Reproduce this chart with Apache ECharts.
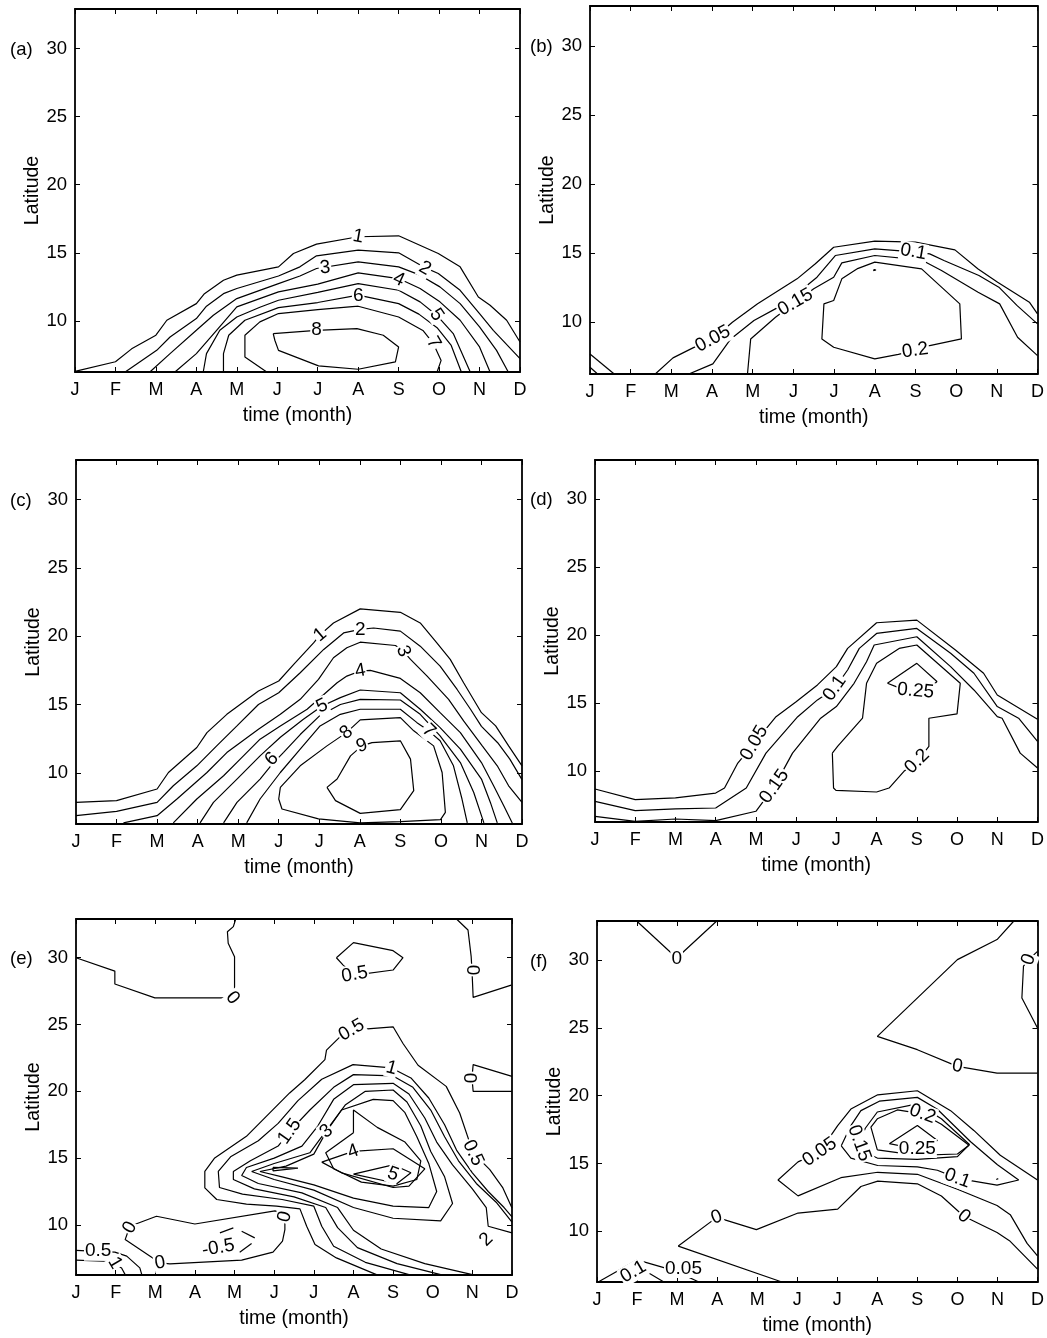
<!DOCTYPE html>
<html><head><meta charset="utf-8">
<script src="https://cdn.jsdelivr.net/npm/echarts@6/dist/echarts.min.js"></script>
<style>html,body{margin:0;padding:0;background:#fff}#c{width:1047px;height:1338px}</style>
</head><body><div id="c"></div>
<script>
// ---------- axis values ----------
const months = ['J','F','M','A','M','J','J','A','S','O','N','D'];
const monthTicks = [1,2,3,4,5,6,7,8,9,10,11,12];
const latTicks = [10,15,20,25,30];
const panelTags = ['(a)','(b)','(c)','(d)','(e)','(f)'];
const latMin = 6.25, latMax = 32.9;

// ---------- panel (a) contours [month, latitude] ----------
const a1 = [[1,6.3],[2.0,7.0],[2.4,7.95],[3.0,8.95],[3.27,10.05],[4.0,11.27],[4.2,12.0],[4.67,12.99],[5.0,13.36],[6.03,13.97],[6.4,14.95],[6.97,15.64],[8.0,16.18],[9.0,16.25],[9.98,14.95],[10.52,13.97],[10.97,11.76],[11.26,11.15],[11.67,10.05],[12,8.45]];
const a2 = [[2.24,6.25],[3.02,7.84],[3.35,8.82],[4.0,10.17],[4.25,11.08],[4.67,12.0],[5.0,12.38],[6.03,13.3],[6.56,13.97],[6.97,14.78],[8.0,15.2],[9.0,15.0],[9.61,13.97],[9.98,13.48],[10.52,12.25],[11.0,10.54],[11.34,9.31],[12,7.23]];
const a3 = [[2.85,6.25],[3.35,7.6],[4.0,9.31],[4.42,10.42],[5.0,11.64],[6.03,12.74],[6.56,13.3],[6.97,13.85],[8.0,14.34],[9.0,13.97],[9.53,13.36],[10.02,12.5],[10.52,11.27],[11.0,9.56],[11.42,7.84],[11.71,6.25]];
const a4 = [[3.47,6.25],[4.0,7.6],[4.5,9.31],[5.0,11.03],[6.03,12.13],[7.0,12.7],[8.0,13.53],[9.0,13.11],[9.53,12.38],[10.02,11.4],[10.52,10.05],[11.0,8.09],[11.26,6.25]];
const a5 = [[4.17,6.25],[4.25,7.6],[4.58,9.31],[5.0,10.29],[5.57,11.0],[6.03,11.52],[7.0,12.1],[8.0,12.74],[9.0,12.25],[9.53,11.4],[9.94,10.42],[10.35,9.07],[10.77,6.25]];
const a6 = [[4.67,6.25],[4.67,7.6],[4.8,8.95],[5.2,10.05],[6.03,10.98],[7.0,11.35],[8.0,11.89],[9.0,11.27],[9.5,10.5],[9.95,9.5],[10.3,8.2],[10.55,6.25]];
const a7 = [[5.74,6.25],[5.2,7.35],[5.2,8.95],[5.57,9.93],[6.03,10.54],[7.0,10.83],[8.0,11.08],[9.0,10.29],[9.6,9.3],[9.86,8.33],[10.05,7.1],[9.95,6.25]];
const a8 = [[5.9,9.07],[6.97,9.31],[7.97,9.44],[8.62,8.95],[9.0,8.09],[8.92,6.99],[8.0,6.45],[7.02,6.7],[6.03,7.84],[5.94,8.58],[5.9,9.07]];
const aLabels = [[8.0,16.2,'1'],[9.65,13.85,'2'],[7.18,13.9,'3'],[9.0,13.05,'4'],[9.94,10.45,'5'],[8.0,11.85,'6'],[9.86,8.4,'7'],[6.97,9.33,'8']];
const aRot = [-10,-30,5,-25,-55,0,-60,0];

// ---------- panel (b) ----------
const b0 = [[1,7.7],[1.61,6.21]];
const b00 = [[1,6.74],[1.2,6.21]];
const b1 = [[2.59,6.21],[3.04,7.42],[3.53,8.14],[4.02,8.79],[4.5,10.0],[5.12,11.33],[6.09,13.14],[6.54,14.23],[6.99,15.43],[8.0,15.87],[9.0,15.8],[9.97,15.24],[10.54,13.86],[11.02,12.9],[11.8,11.45],[12,10.6]];
const b2 = [[3.4,6.21],[4.02,6.98],[4.46,8.79],[5.03,10.12],[5.6,11.04],[6.13,12.17],[6.58,13.26],[7.03,14.83],[8.0,15.31],[8.95,15.1],[9.35,14.95],[9.7,14.47],[10.56,13.38],[11.05,12.54],[11.5,11.2],[12,9.88]];
const b3 = [[4.87,6.21],[4.95,8.79],[5.56,10.36],[6.05,11.45],[6.5,12.42],[6.99,13.26],[7.19,14.3],[8.0,14.83],[9.15,14.5],[9.64,13.74],[10.54,12.17],[11.07,11.33],[11.51,8.91],[12,7.58]];
const b4 = [[7.56,13.86],[8.0,14.35],[9.15,13.86],[10.09,11.33],[10.13,8.79],[9.35,8.31],[8.99,7.95],[8.58,7.67],[8.0,7.34],[6.99,8.19],[6.7,8.79],[6.75,11.33],[6.99,11.57],[7.19,13.14],[7.56,13.86]];
const b5 = [[7.98,13.82],[8.03,13.78],[8.02,13.7],[7.97,13.74],[7.98,13.82]];
const bLabels = [[4.02,8.79,'0.05'],[6.05,11.45,'0.15'],[8.95,15.1,'0.1'],[8.99,7.95,'0.2']];
const bRot = [28,30,-10,8];

// ---------- panel (c) ----------
const c1 = [[1,7.83],[2.0,7.96],[3.0,8.81],[3.28,10.02],[3.98,11.85],[4.23,12.94],[4.72,14.28],[5.5,15.99],[6.0,16.72],[6.37,17.93],[6.86,19.51],[7.02,20.1],[7.35,20.97],[8.01,22.0],[9.0,21.75],[9.49,20.97],[9.9,19.51],[10.23,18.3],[10.56,16.59],[11.0,14.4],[11.35,13.43],[11.67,11.97],[12,10.51]];
const c2 = [[1,6.86],[2.0,7.18],[3.0,7.83],[3.4,9.05],[3.98,10.51],[4.47,11.97],[4.97,13.43],[5.5,15.0],[6.0,15.86],[6.53,17.32],[7.11,19.03],[7.6,20.24],[8.01,20.5],[8.34,20.6],[9.0,20.37],[9.49,19.27],[9.98,17.81],[10.4,16.1],[10.73,14.65],[11.0,13.4],[11.4,12.2],[11.7,11.0],[12,9.5]];
const c3 = [[2.17,6.33],[3.0,6.86],[3.49,8.08],[4.23,10.02],[4.72,11.48],[5.5,13.19],[6.04,14.28],[6.53,15.38],[6.98,16.84],[7.35,18.42],[7.68,19.15],[8.01,19.56],[8.88,19.32],[9.07,18.9],[9.25,18.3],[9.66,17.08],[10.19,15.38],[10.56,13.8],[11.02,11.97],[11.39,10.51],[11.67,9.05],[12,7.83]];
const c4 = [[3.4,6.33],[3.98,8.08],[4.64,9.78],[5.05,11.0],[5.54,12.46],[6.04,13.43],[6.7,14.65],[7.44,16.59],[7.68,17.08],[8.01,17.45],[8.26,17.5],[9.0,16.91],[9.49,15.86],[9.98,14.4],[10.48,12.94],[11.0,10.75],[11.3,9.05],[11.55,7.59],[11.76,6.33]];
const c5 = [[4.06,6.33],[4.39,7.83],[4.97,9.54],[5.54,11.24],[6.04,12.6],[6.6,13.9],[7.07,14.89],[7.52,15.5],[8.01,16.06],[9.0,15.86],[9.49,14.65],[9.98,13.31],[10.48,11.73],[11.0,9.54],[11.22,7.83],[11.39,6.33]];
const c6 = [[4.64,6.33],[4.97,7.83],[5.54,9.54],[5.83,10.6],[6.12,11.5],[6.53,12.8],[7.02,14.2],[7.52,15.0],[8.01,15.38],[9.0,15.33],[9.49,14.28],[9.98,12.7],[10.48,10.75],[10.81,8.56],[11.06,6.33]];
const c7 = [[5.21,6.33],[5.54,8.08],[6.04,10.02],[6.53,11.73],[7.02,13.43],[7.52,14.28],[8.01,14.65],[9.0,14.65],[9.41,13.67],[9.7,13.07],[9.98,12.34],[10.31,10.51],[10.52,8.08],[10.65,6.33]];
const c8 = [[6.04,8.93],[6.53,10.51],[7.19,11.97],[7.67,12.94],[8.01,13.87],[9.0,14.04],[9.33,13.07],[9.82,11.97],[10.03,10.02],[10.11,7.1],[9.99,6.57],[9.0,6.42],[8.01,6.33],[6.98,6.62],[6.08,7.35],[6.0,8.08],[6.04,8.93]];
const c9 = [[7.19,8.93],[7.44,9.54],[7.77,11.24],[8.05,11.97],[8.3,12.21],[9.0,12.34],[9.25,11.0],[9.33,8.69],[9.0,7.3],[8.01,7.03],[7.4,7.96],[7.19,8.93]];
const cLabels = [[7.02,20.1,'1'],[8.01,20.5,'2'],[9.07,18.9,'3'],[8.01,17.45,'4'],[7.07,14.89,'5'],[5.83,11.0,'6'],[9.7,13.07,'7'],[7.67,12.94,'8'],[8.05,11.97,'9']];
const cRot = [40,0,-70,10,25,45,-45,40,20];

// ---------- panel (d) ----------
const d1 = [[1,8.68],[2.0,7.9],[3.0,8.02],[4.0,8.38],[4.22,8.75],[4.55,10.59],[4.96,12.06],[5.5,14.0],[6.0,15.1],[6.53,16.34],[7.0,17.69],[7.28,19.03],[8.0,20.92],[9.0,21.11],[9.96,18.91],[10.66,17.2],[11.0,15.6],[12,13.82]];
const d2 = [[1,7.77],[2.0,7.09],[3.0,7.21],[4.0,7.28],[4.76,8.75],[5.25,11.32],[6.04,14.0],[6.53,15.24],[6.96,16.1],[7.28,17.44],[7.57,19.03],[8.0,20.13],[9.0,20.5],[9.84,18.67],[10.42,17.2],[11.0,14.75],[11.53,13.89],[12,12.18]];
const d3 = [[1,6.67],[2.0,6.3],[3.0,6.47],[4.0,6.35],[5.0,7.04],[5.46,8.87],[5.91,11.32],[6.61,13.89],[7.0,14.75],[7.44,16.46],[7.75,18.05],[7.94,19.28],[9.0,19.89],[9.84,17.69],[10.42,15.97],[11.0,14.01],[11.12,13.89],[11.57,11.32],[12,10.22]];
const d4 = [[6.9,11.32],[6.93,8.75],[6.99,8.58],[8.0,8.46],[8.31,8.75],[8.68,9.98],[9.01,10.71],[9.3,11.81],[9.3,13.89],[10.0,14.21],[10.08,16.46],[9.0,19.28],[8.56,19.03],[8.0,17.93],[7.75,16.46],[7.65,13.89],[7.03,11.81],[6.9,11.32]];
const d5 = [[8.27,16.46],[9.0,17.93],[9.5,16.59],[9.4,16.3],[8.5,16.2],[8.27,16.46]];
const dLabels = [[4.96,12.06,'0.05'],[6.96,16.1,'0.1'],[5.46,8.87,'0.15'],[9.01,10.71,'0.2'],[8.97,15.9,'0.25']];
const dRot = [60,55,55,45,-5];

// ---------- panel (e) ----------
const e0a = [[1,30.0],[1.98,29.0],[1.98,28.03],[2.99,27.0],[4.8,27.0],[4.95,27.03],[5.0,27.45],[5.0,30.08],[4.84,31.08],[4.82,31.95],[4.97,32.33],[5.03,32.9]];
const e0b = [[10.6,32.9],[10.89,32.08],[10.97,30.08],[10.99,29.08],[11.02,27.03],[11.98,27.95]];
const e0c = [[12,21.12],[11.02,22.0],[10.99,21.0],[11.02,20.0],[12,20.0]];
const e0d = [[2.36,9.9],[3.03,10.65],[4.0,10.07],[6.02,11.05],[6.27,10.77],[6.27,9.65],[6.21,8.78],[5.97,7.96],[5.18,7.36],[3.37,7.08],[3.12,7.16],[2.87,7.66],[2.24,8.9],[2.36,9.9]];
const e05a = [[7.57,30.0],[8.0,31.13],[9.0,30.53],[9.25,30.0],[9.0,29.08],[8.03,28.7],[7.74,29.45],[7.57,30.0]];
const e05b = [[8.58,6.28],[7.57,7.53],[7.03,8.53],[6.82,9.9],[6.65,11.2],[6.06,11.4],[5.3,11.55],[4.55,11.9],[4.25,12.77],[4.25,14.01],[4.5,15.01],[5.3,16.63],[5.97,18.63],[6.39,19.88],[6.77,20.87],[7.28,22.37],[7.32,23.08],[7.66,24.08],[7.95,24.58],[9.0,24.83],[9.25,23.58],[9.63,21.95],[10.34,20.37],[10.68,18.38],[11.02,15.39],[11.44,14.14],[11.77,12.77],[12,11.27]];
const e05c = [[1,8.1],[1.98,7.96],[2.28,7.66],[2.61,6.78],[2.66,6.28]];
const e1a = [[1,7.36],[1.86,7.26],[2.15,6.78],[2.24,6.28]];
const e1b = [[9.4,6.28],[8.3,7.2],[7.5,8.4],[7.2,9.9],[7.0,11.4],[6.2,11.9],[5.2,12.3],[4.62,12.8],[4.59,14.0],[4.9,15.1],[5.6,16.3],[6.1,17.6],[6.6,19.3],[7.2,20.9],[7.99,22.0],[8.96,21.75],[9.45,21.0],[9.9,19.5],[10.3,17.5],[10.6,15.6],[11.0,13.9],[11.4,12.5],[11.8,11.3],[12,10.6]];
const e15 = [[10.2,6.28],[9.1,7.1],[8.1,8.3],[7.6,9.8],[7.3,11.3],[6.5,12.1],[5.5,12.7],[4.97,13.4],[4.97,14.0],[5.4,14.8],[6.1,15.9],[6.39,17.0],[6.9,18.6],[7.5,20.3],[8.0,21.25],[9.0,21.15],[9.5,20.3],[9.95,18.6],[10.3,16.6],[10.65,14.8],[11.1,13.1],[11.6,11.7],[12,10.2]];
const e2 = [[11.0,6.28],[9.8,7.1],[8.7,8.2],[8.0,9.6],[7.6,11.3],[6.7,12.4],[5.6,13.1],[5.18,13.7],[5.3,14.3],[6.0,15.0],[6.7,15.9],[7.1,17.4],[7.5,19.4],[8.0,20.5],[9.0,20.6],[9.4,19.8],[9.8,18.0],[10.1,16.2],[10.5,14.5],[11.0,12.7],[11.35,11.3],[11.4,9.9],[12,9.4]];
const e25 = [[5.43,14.0],[6.0,14.6],[6.9,15.4],[7.3,17.0],[7.8,19.0],[8.3,20.0],[9.0,20.1],[9.35,19.2],[9.7,17.4],[9.95,15.5],[10.3,13.6],[10.5,11.6],[10.2,10.3],[9.0,10.5],[8.0,11.3],[7.0,12.6],[6.0,13.4],[5.43,14.0]];
const e3 = [[5.64,14.0],[6.3,14.4],[7.0,15.3],[7.32,17.0],[7.7,18.6],[8.5,19.4],[9.0,19.3],[9.3,18.4],[9.6,16.6],[9.9,14.6],[10.1,12.5],[9.9,11.3],[9.0,11.4],[8.0,12.0],[7.0,13.0],[6.2,13.6],[5.64,14.0]];
const e35 = [[5.97,14.3],[6.6,14.25],[5.97,14.05],[5.97,14.3]];
const e4 = [[7.2,14.7],[7.99,15.5],[9.0,15.7],[9.8,14.2],[9.4,12.9],[9.0,12.8],[7.7,13.9],[7.2,14.7]];
const e45 = [[8.0,16.9],[8.0,18.6],[8.6,17.3],[9.3,16.2],[9.7,14.8],[9.6,13.4],[9.0,12.9],[8.2,13.2],[7.5,14.2],[7.3,15.4],[8.0,16.9]];
const e5 = [[8.0,13.8],[9.0,14.5],[9.45,13.9],[9.1,13.1],[8.0,13.8]];
const em05a = [[4.63,9.4],[4.97,9.78]];
const em05b = [[5.18,9.53],[5.51,9.03]];
const em05c = [[5.13,7.96],[5.43,8.6]];
const eLabels = [[4.95,27.0,'0'],[8.03,28.75,'0.5'],[10.99,29.08,'0'],[10.99,21.0,'0'],[7.95,24.58,'0.5'],[8.96,21.75,'1'],[6.39,17.0,'1.5'],[7.32,17.0,'3'],[7.99,15.5,'4'],[9.0,13.8,'5'],[11.02,15.39,'0.5'],[11.35,8.9,'2'],[2.36,9.8,'0'],[6.27,10.6,'0'],[3.12,7.16,'0'],[4.59,8.28,'-0.5'],[1.56,8.03,'0.5'],[1.98,7.16,'1']];
const eRot = [-50,10,-90,90,30,-15,55,40,20,-20,-65,45,60,75,10,10,0,-60];

// ---------- panel (f) ----------
const f0a = [[1.99,32.9],[2.99,30.17],[3.99,32.9]];
const f0b = [[11.41,32.9],[10.99,31.53],[10.0,30.05],[8.0,24.38],[9.0,23.4],[10.0,22.17],[10.99,21.67],[12,21.67]];
const f0c = [[12,30.66],[11.78,30.05],[11.65,29.56],[11.61,27.22],[12,25.0]];
const f0d = [[5.6,6.27],[3.03,8.9],[3.99,11.02],[4.98,10.12],[6.02,11.34],[7.01,11.63],[7.59,13.3],[8.01,13.7],[9.0,13.5],[9.6,12.6],[10.16,11.1],[10.99,9.9],[11.3,9.3],[12,7.2]];
const f005 = [[12,13.78],[11.07,15.61],[10.41,17.44],[9.83,18.9],[9.0,20.37],[8.01,20.07],[7.34,19.02],[7.01,17.8],[6.56,15.85],[6.02,15.12],[5.52,13.78],[6.02,12.61],[7.09,13.95],[8.01,14.35],[9.0,14.2],[10.0,13.1],[10.99,11.9],[11.32,11.22],[11.74,9.1],[12,8.17]];
const f01 = [[7.1,16.3],[7.34,17.8],[7.59,18.9],[8.05,19.6],[9.0,19.88],[9.5,19.0],[10.33,16.6],[11.0,14.9],[11.53,13.78],[10.99,13.4],[10.0,13.9],[9.5,14.5],[9.0,14.75],[8.01,14.85],[7.34,15.4],[7.1,16.3]];
const f015 = [[7.55,16.0],[7.55,16.5],[7.7,17.6],[8.0,18.8],[9.0,19.4],[9.6,18.3],[10.3,16.4],[10.0,15.5],[9.0,15.3],[8.0,15.4],[7.55,16.0]];
const f02 = [[8.0,16.0],[7.84,17.68],[8.0,18.3],[8.5,18.95],[9.13,18.66],[9.6,17.9],[10.29,16.34],[10.0,15.7],[9.0,15.6],[8.0,16.0]];
const f025 = [[8.3,16.46],[9.0,17.8],[9.5,16.7],[9.0,16.05],[8.3,16.46]];
const f0t = [[10.97,13.82],[11.02,13.88],[11.05,13.8],[11.0,13.74],[10.97,13.82]];
const f005b = [[1.04,6.27],[2.0,7.88],[2.95,7.07],[3.53,6.27]];
const f01b = [[1.62,6.27],[2.24,7.0],[2.66,6.27]];
const fLabels = [[2.99,30.1,'0'],[10.0,22.17,'0'],[11.78,30.05,'0'],[3.99,11.02,'0'],[10.16,11.1,'0'],[6.56,15.85,'0.05'],[7.55,16.5,'0.15'],[9.13,18.66,'0.2'],[9.0,16.1,'0.25'],[10.0,13.9,'0.1'],[1.91,7.0,'0.1'],[3.16,7.25,'0.05']];
const fRot = [0,-10,70,20,-40,35,-70,-20,0,-20,30,0];

// ---------- assemble ----------
const panelContours = [
  [a1,a2,a3,a4,a5,a6,a7,a8],
  [b0,b00,b1,b2,b3,b4,b5],
  [c1,c2,c3,c4,c5,c6,c7,c8,c9],
  [d1,d2,d3,d4,d5],
  [e0a,e0b,e0c,e0d,e05a,e05b,e05c,e1a,e1b,e15,e2,e25,e3,e35,e4,e45,e5,em05a,em05b,em05c],
  [f0a,f0b,f0c,f0d,f005,f01,f015,f02,f025,f0t,f005b,f01b]
];
const panelLabels = [aLabels,bLabels,cLabels,dLabels,eLabels,fLabels];
const panelRots = [aRot,bRot,cRot,dRot,eRot,fRot];

// layout (pixels) – not data
const layout = [
  {left:75, top:9, width:445, height:363, tagX:10, tagY:40},
  {left:590, top:6, width:450, height:368, tagX:530, tagY:37},
  {left:76, top:460, width:446, height:364, tagX:10, tagY:491},
  {left:595, top:460, width:444, height:362, tagX:530, tagY:490},
  {left:76, top:919, width:436, height:356, tagX:10, tagY:949},
  {left:597, top:921, width:442, height:361, tagX:530, tagY:952}
];

const FONT = "'Liberation Sans', Arial, Helvetica, sans-serif";
const axisLineStyle = {color:'#000', width:1.8};
const tickStyle = {color:'#000', width:1};
const grids=[], xAxes=[], yAxes=[], series=[], graphics=[];

layout.forEach((L, i) => {
  grids.push({left:L.left, top:L.top, width:L.width, height:L.height, containLabel:false});
  xAxes.push({gridIndex:i, type:'value', min:1, max:12, position:'bottom',
    name:'time (month)', nameLocation:'middle', nameGap:34,
    nameTextStyle:{fontSize:19.5, color:'#000', fontFamily:FONT},
    axisLine:{show:true, onZero:false, lineStyle:axisLineStyle},
    axisTick:{show:true, inside:true, length:5, customValues:monthTicks, lineStyle:tickStyle},
    axisLabel:{show:true, customValues:monthTicks, formatter:v=>months[Math.round(v)-1], fontSize:18, color:'#000', margin:9, fontFamily:FONT},
    splitLine:{show:false}});
  xAxes.push({gridIndex:i, type:'value', min:1, max:12, position:'top',
    axisLine:{show:true, onZero:false, lineStyle:axisLineStyle},
    axisTick:{show:true, inside:true, length:5, customValues:monthTicks, lineStyle:tickStyle},
    axisLabel:{show:false}, splitLine:{show:false}});
  yAxes.push({gridIndex:i, type:'value', min:latMin, max:latMax, position:'left',
    name:'Latitude', nameLocation:'middle', nameGap:32, nameRotate:90,
    nameTextStyle:{fontSize:19.5, color:'#000', fontFamily:FONT},
    axisLine:{show:true, onZero:false, lineStyle:axisLineStyle},
    axisTick:{show:true, inside:true, length:5, customValues:latTicks, lineStyle:tickStyle},
    axisLabel:{show:true, customValues:latTicks, fontSize:18.5, color:'#000', margin:8, fontFamily:FONT},
    splitLine:{show:false}});
  yAxes.push({gridIndex:i, type:'value', min:latMin, max:latMax, position:'right',
    axisLine:{show:true, onZero:false, lineStyle:axisLineStyle},
    axisTick:{show:true, inside:true, length:5, customValues:latTicks, lineStyle:tickStyle},
    axisLabel:{show:false}, splitLine:{show:false}});

  panelContours[i].forEach(pts => {
    series.push({type:'line', xAxisIndex:2*i, yAxisIndex:2*i, data:pts, symbol:'none', showSymbol:false,
      lineStyle:{color:'#000', width:1.2}, silent:true, animation:false, z:2});
  });
  const labs = panelLabels[i], rots = panelRots[i];
  series.push({type:'scatter', xAxisIndex:2*i, yAxisIndex:2*i, symbolSize:1,
    itemStyle:{color:'rgba(0,0,0,0)', opacity:1}, silent:true, animation:false, z:5,
    label:{show:true, position:'inside', fontSize:19, color:'#000', opacity:1, textBorderWidth:0, fontFamily:FONT, backgroundColor:'#fff', padding:[0,1]},
    data: labs.map((l,k)=>({value:[l[0],l[1]], label:{formatter:l[2], rotate:rots[k]}}))});
  graphics.push({type:'text', left:L.tagX, top:L.tagY, style:{text:panelTags[i], fontSize:18.5, fill:'#000', fontFamily:FONT}});
});

const chart = echarts.init(document.getElementById('c'), null, {width:1047, height:1338});
chart.setOption({backgroundColor:'#fff', animation:false, grid:grids, xAxis:xAxes, yAxis:yAxes, series:series, graphic:graphics});
</script></body></html>
